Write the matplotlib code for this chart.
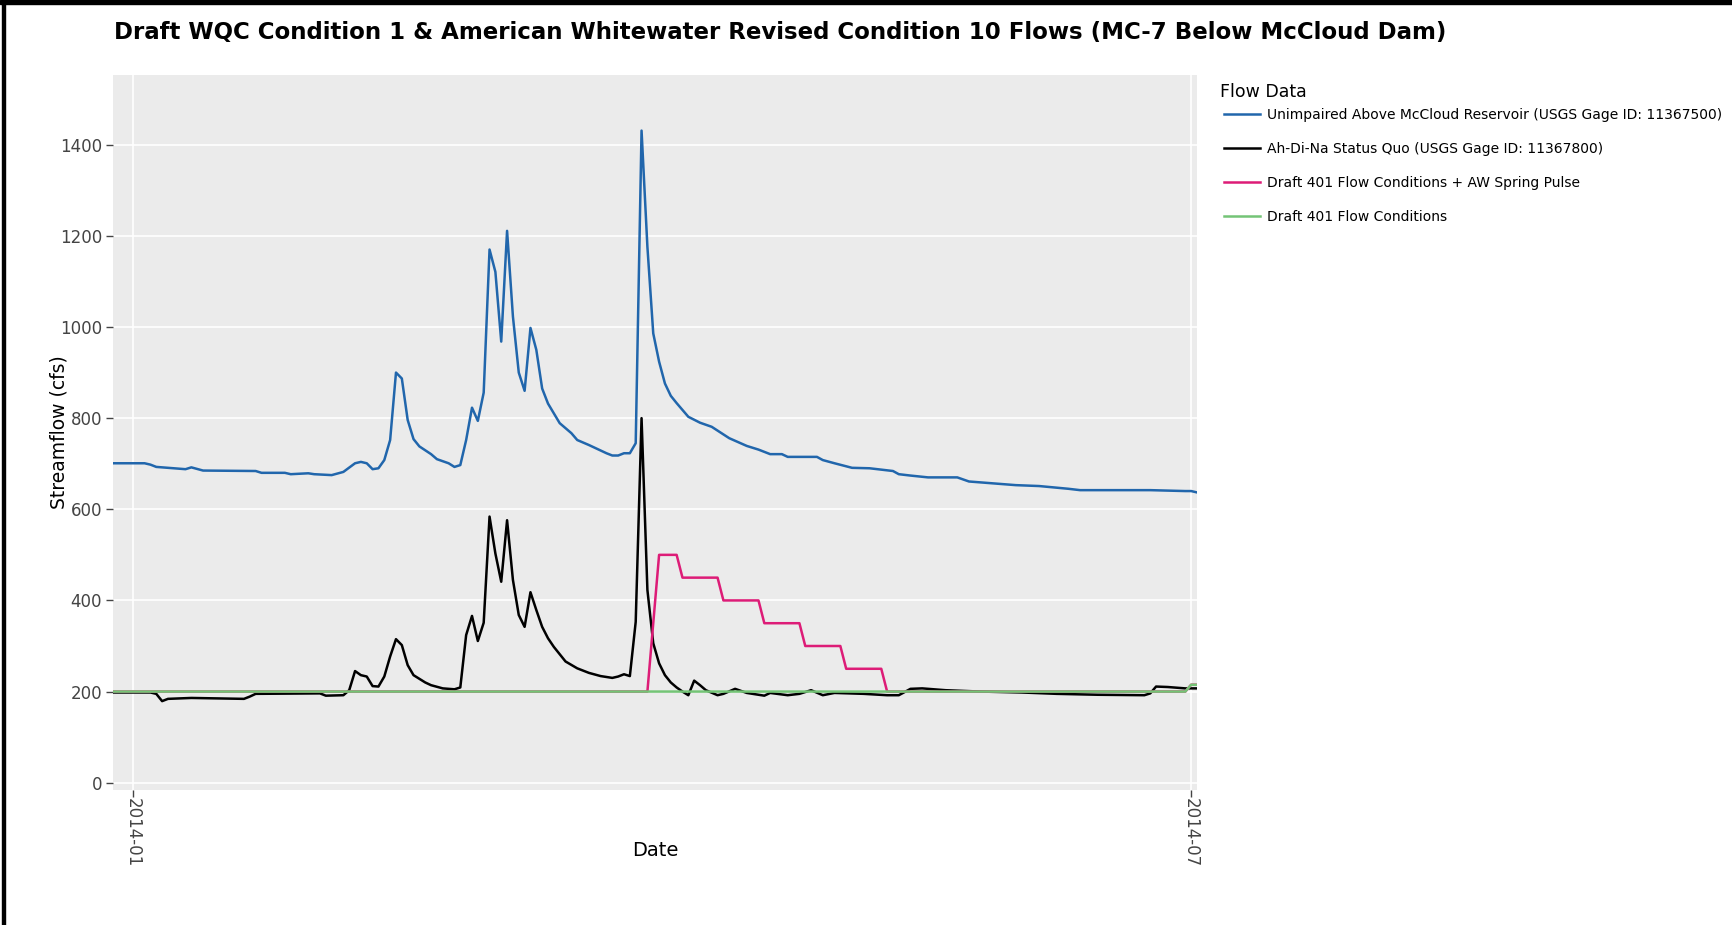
import numpy as np
import pandas as pd
import matplotlib
matplotlib.use('Agg')
import matplotlib.pyplot as plt
from matplotlib.patches import Rectangle

# days counted from 2014-01-01, values in cfs
blue_day = [-4, 2, 3, 4, 5, 9, 10, 12, 21, 22, 26, 27, 30, 31, 34, 36, 38, 39, 40, 41,
            42, 43, 44, 45, 46, 47, 48, 49, 51, 52, 54, 55, 56, 57, 58, 59, 60, 61, 62, 63,
            64, 65, 66, 67, 68, 69, 70, 71, 73, 74, 75, 76, 78, 81, 82, 83, 84, 85, 86, 87,
            88, 89, 90, 91, 92, 93, 95, 97, 99, 102, 105, 107, 109, 111, 112, 117, 118, 120,
            123, 126, 130, 131, 133, 136, 141, 143, 151, 155, 160, 162, 174, 180, 181, 182]
blue_val = [701, 701, 698, 693, 692, 688, 692, 685, 684, 680, 680, 677, 679, 677, 675, 682,
            701, 704, 701, 688, 690, 708, 752, 900, 887, 796, 754, 738, 721, 710, 701, 693,
            697, 752, 823, 794, 856, 1170, 1121, 968, 1211, 1023, 900, 860, 998, 950, 865,
            832, 789, 778, 767, 752, 741, 723, 718, 718, 723, 723, 745, 1431, 1176, 986, 924,
            876, 849, 833, 803, 790, 781, 756, 739, 731, 721, 721, 715, 715, 708, 701, 691,
            690, 684, 677, 674, 670, 670, 661, 653, 651, 645, 642, 642, 640, 640, 637]

black_day = [-4, 3, 4, 5, 6, 10, 19, 20, 21, 32, 33, 36, 37, 38, 39, 40, 41, 42, 43, 44,
             45, 46, 47, 48, 50, 51, 53, 55, 56, 57, 58, 59, 60, 61, 62, 63, 64, 65, 66, 67,
             68, 69, 70, 71, 72, 74, 76, 78, 80, 82, 83, 84, 85, 86, 87, 88, 89, 90, 91, 92,
             93, 94, 95, 96, 97, 98, 100, 101, 103, 105, 108, 109, 112, 114, 116, 118, 120,
             125, 129, 131, 133, 135, 139, 145, 152, 158, 165, 173, 174, 175, 177, 180, 182]
black_val = [198, 198, 195, 179, 184, 186, 184, 189, 195, 196, 191, 192, 203, 245, 236, 233,
             212, 211, 233, 277, 315, 302, 258, 236, 220, 214, 207, 205, 209, 324, 366, 311,
             351, 584, 503, 441, 576, 445, 368, 342, 418, 379, 342, 317, 298, 266, 251, 241,
             234, 230, 233, 238, 234, 353, 800, 423, 306, 262, 236, 220, 209, 200, 192, 224,
             214, 203, 192, 195, 206, 197, 191, 197, 192, 195, 203, 192, 197, 195, 192, 192,
             206, 207, 203, 200, 198, 195, 193, 192, 196, 211, 210, 207, 207]

pink_day = [-4, 88, 90, 93, 94, 100, 101, 107, 108, 114, 115, 121, 122, 128, 129, 180, 181, 182]
pink_val = [200, 200, 500, 500, 450, 450, 400, 400, 350, 350, 300, 300, 250, 250, 200, 200, 215, 215]

green_day = [-4, 180, 181, 182]
green_val = [200, 200, 215, 215]

names = ['Unimpaired Above McCloud Reservoir (USGS Gage ID: 11367500)',
         'Ah-Di-Na Status Quo (USGS Gage ID: 11367800)',
         'Draft 401 Flow Conditions + AW Spring Pulse',
         'Draft 401 Flow Conditions']
colors = ['#2166ac', '#000000', '#dd1c77', '#74c476']

t0 = pd.Timestamp('2014-01-01')
def to_dates(days):
    return t0 + pd.to_timedelta(days, unit='D')

W, H = 1732, 925
fig = plt.figure(figsize=(17.32, 9.25), dpi=100)
ax = fig.add_axes([113/W, 1 - 790/H, (1197-113)/W, (790-75)/H])
ax.set_facecolor('#EBEBEB')

series = [(blue_day, blue_val), (black_day, black_val), (pink_day, pink_val), (green_day, green_val)]
for (d, v), name, c in zip(series, names, colors):
    ax.plot(to_dates(d), v, color=c, lw=1.8, label=name)

ax.set_xlim(t0 - pd.Timedelta(days=3.4), t0 + pd.Timedelta(days=182))
ax.set_ylim(-16, 1553)
ax.set_yticks(range(0, 1401, 200))
xt = [pd.Timestamp('2014-01-01'), pd.Timestamp('2014-07-01')]
ax.set_xticks(xt)
ax.set_xticklabels(['2014-01', '2014-07'], rotation=-90)
ax.grid(True, color='white', lw=1.2)
ax.set_axisbelow(True)
for s in ax.spines.values():
    s.set_visible(False)
ax.tick_params(axis='both', colors='#444444', labelsize=12, length=5, width=1, pad=3)
ax.tick_params(axis='x', pad=1)

ax.set_ylabel('Streamflow (cfs)', fontsize=13.5, color='black')
ax.yaxis.label.set_va('center')
ax.yaxis.set_label_coords((58.5 - 113) / (1197 - 113), 0.5)
ax.set_xlabel('Date', fontsize=14, color='black')
ax.xaxis.label.set_va('center')
ax.xaxis.set_label_coords(0.5, -60.5 / (790 - 75))

fig.text(114/W, 1 - 32/H, 'Draft WQC Condition 1 & American Whitewater Revised Condition 10 Flows (MC-7 Below McCloud Dam)',
         fontsize=16.5, fontweight='bold', va='center', ha='left')

fig.text(1220/W, 1 - 92/H, 'Flow Data', fontsize=12.5, va='center', ha='left')
leg = ax.legend(loc='upper left', bbox_to_anchor=(1218/W, 1 - 102/H), bbox_transform=fig.transFigure,
                frameon=False, fontsize=10,
                handlelength=2.6, handletextpad=0.5, labelspacing=1.45, borderaxespad=0)

# frame edges of the original screenshot
fig.patches.append(Rectangle((0, 1 - 4/H), 1, 4/H, transform=fig.transFigure, color='black'))
fig.patches.append(Rectangle((2/W, 0), 3/W, 1, transform=fig.transFigure, color='black'))

fig.savefig('out.png', dpi=100)
